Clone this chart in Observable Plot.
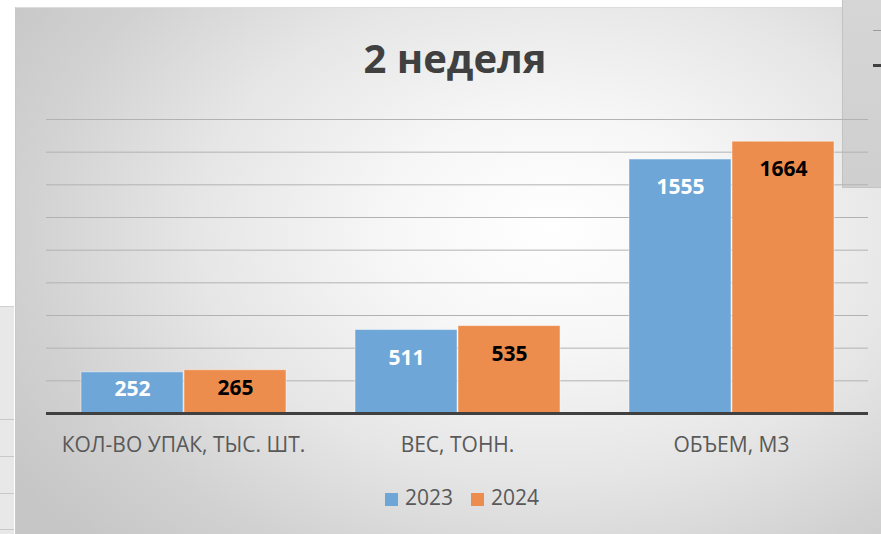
<!DOCTYPE html>
<html>
<head>
<meta charset="utf-8">
<script src="https://cdn.jsdelivr.net/npm/d3@7"></script>
<script src="https://cdn.jsdelivr.net/npm/@observablehq/plot@0.6"></script>
<style>
  html, body { margin: 0; padding: 0; background: #ffffff; }
  #wrap { position: relative; width: 881px; height: 534px; overflow: hidden; font-family: "Open Sans", sans-serif; }
  #area { position: absolute; left: 15px; top: 7px; width: 866px; height: 527px;
    background: radial-gradient(ellipse 75% 85% at 62% 42%, #ffffff 0%, #f7f7f7 25%, #e6e6e6 55%, #d2d2d2 80%, #c6c6c6 100%);
    border-left: 1px solid #c9c9c9; border-top: 1px solid #dddddd; box-sizing: border-box; }
  #leftpanel { position: absolute; left: 0; top: 306px; width: 14px; height: 228px; background: #e8e8e8;
    border-top: 1px solid #d0d0d0; box-sizing: border-box; }
  .lp-line { position: absolute; left: 0; width: 14px; height: 1px; background: #c8c8c8; }
  #rightpanel { position: absolute; left: 842px; top: 0; width: 39px; height: 188px;
    background: linear-gradient(180deg, #d6d6d6, #cfcfcf); border-left: 1px solid #c2c2c2; border-bottom: 1px solid #c4c4c4; box-sizing: border-box; }
  .rp-line1 { position: absolute; left: 30px; top: 30px; width: 9px; height: 1px; background: #9a9a9a; }
  .rp-line2 { position: absolute; left: 30px; top: 64px; width: 9px; height: 3px; background: #404040; }
  #title { position: absolute; left: 455px; top: 38px; transform: translateX(-50%); white-space: nowrap;
    font-size: 40px; line-height: 40px; font-weight: 700; color: #404040; }
  #chart { position: absolute; left: 0; top: 100px; }
  #legend { position: absolute; left: 385px; top: 487px; display: flex; align-items: center; font-size: 21px; line-height: 21px; color: #595959; }
  .sw { width: 13px; height: 13px; display: inline-block; margin-top: 4px; }
</style>
</head>
<body>
<div id="wrap">
  <div id="area"></div>
  <div id="leftpanel">
    <div class="lp-line" style="top:112px"></div>
    <div class="lp-line" style="top:149px"></div>
    <div class="lp-line" style="top:186px"></div>
    <div class="lp-line" style="top:222px"></div>
  </div>
  <div id="rightpanel"><div class="rp-line1"></div><div class="rp-line2"></div></div>
  <div id="title">2 неделя</div>
  <div id="chart"></div>
  <div id="legend"></div>
</div>
<script>
const categories = ["КОЛ-ВО УПАК, ТЫС. ШТ.", "ВЕС, ТОНН.", "ОБЪЕМ, М3"];
const years = ["2023", "2024"];
const values2023 = [252, 511, 1555];
const values2024 = [265, 535, 1664];
const yTicks = [200, 400, 600, 800, 1000, 1200, 1400, 1600, 1800];
const colors = ["#6fa6d8", "#ed8d4d"];

const data = [];
categories.forEach((c, i) => {
  data.push({category: c, year: years[0], value: values2023[i]});
  data.push({category: c, year: years[1], value: values2024[i]});
});

// label placement: inside end of bar, or centered for short bars
const labelY = d => Math.max(d.value - 171, d.value / 2 + 25);

const chart = Plot.plot({
  width: 881,
  height: 360,
  marginLeft: 45,
  marginRight: 12,
  marginTop: 19,
  marginBottom: 47,
  style: {background: "transparent", fontFamily: "Open Sans, sans-serif", overflow: "visible"},
  fx: {domain: categories, padding: 0, label: null},
  x: {domain: years, paddingInner: 0.01, paddingOuter: 0.335, axis: null},
  y: {domain: [0, 1800], axis: null},
  color: {domain: years, range: colors},
  marks: [
    Plot.ruleY(yTicks, {stroke: "#b2b2b2", strokeWidth: 1}),
    Plot.barY(data, {fx: "category", x: "year", y: "value", fill: "year", stroke: "#ffffff", strokeOpacity: 0.45, strokeWidth: 1}),
    Plot.text(data.filter(d => d.year === years[0]), {fx: "category", x: "year", y: labelY, text: d => String(d.value), fill: "#ffffff", fontSize: 21, fontWeight: 700}),
    Plot.text(data.filter(d => d.year === years[1]), {fx: "category", x: "year", y: labelY, text: d => String(d.value), fill: "#000000", fontSize: 21, fontWeight: 700}),
    Plot.ruleY([0], {stroke: "#404040", strokeWidth: 3}),
    Plot.axisFx({anchor: "bottom", tickSize: 0, tickPadding: 24, fontSize: 21, fill: "#595959", label: null})
  ]
});
document.getElementById("chart").appendChild(chart);

const legend = document.getElementById("legend");
years.forEach((y, i) => {
  const sw = document.createElement("span");
  sw.className = "sw";
  sw.style.background = colors[i];
  sw.style.marginRight = "7px";
  if (i > 0) sw.style.marginLeft = "18px";
  const t = document.createElement("span");
  t.textContent = y;
  legend.appendChild(sw);
  legend.appendChild(t);
});
</script>
</body>
</html>
